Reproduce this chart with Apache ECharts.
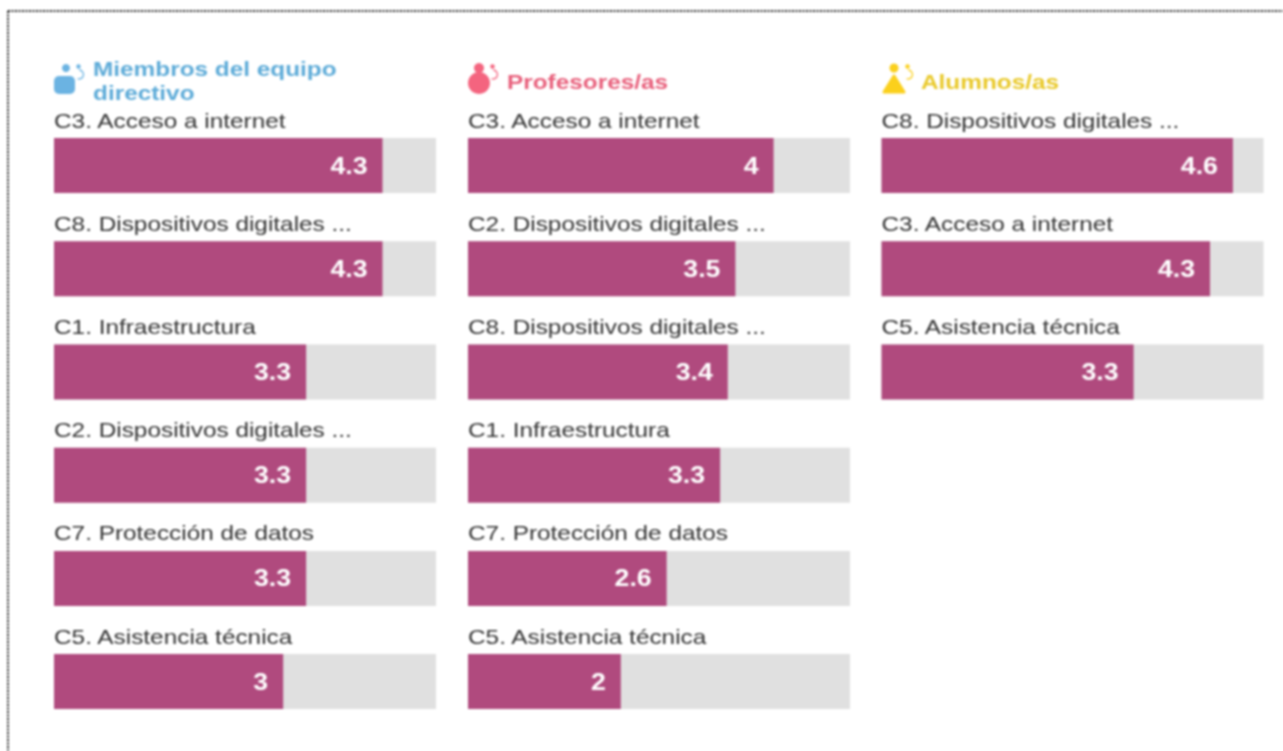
<!DOCTYPE html>
<html>
<head>
<meta charset="utf-8">
<style>
  html, body { margin: 0; padding: 0; background: #fff; overflow: hidden; }
  #chart { width: 1283px; height: 751px; filter: blur(0.8px); }
</style>
<script src="https://cdn.jsdelivr.net/npm/echarts@6/dist/echarts.min.js"></script>
</head>
<body>
<div id="chart"></div>
<script>
const directivoCategories = ['C3. Acceso a internet', 'C8. Dispositivos digitales ...', 'C1. Infraestructura', 'C2. Dispositivos digitales ...', 'C7. Protección de datos', 'C5. Asistencia técnica'];
const directivoValues = [4.3, 4.3, 3.3, 3.3, 3.3, 3];

const profesoresCategories = ['C3. Acceso a internet', 'C2. Dispositivos digitales ...', 'C8. Dispositivos digitales ...', 'C1. Infraestructura', 'C7. Protección de datos', 'C5. Asistencia técnica'];
const profesoresValues = [4, 3.5, 3.4, 3.3, 2.6, 2];

const alumnosCategories = ['C8. Dispositivos digitales ...', 'C3. Acceso a internet', 'C5. Asistencia técnica'];
const alumnosValues = [4.6, 4.3, 3.3];

const FONT = '"Liberation Sans", Arial, sans-serif';
const ROW_HEIGHT = 103.2;
const GRID_TOP = 114;
const TEXT_STRETCH = 1.16; // the reference text is stretched sideways

const columns = [
  { left: 54, categories: directivoCategories, values: directivoValues },
  { left: 468, categories: profesoresCategories, values: profesoresValues },
  { left: 881.5, categories: alumnosCategories, values: alumnosValues }
];

// small "person" pictograms next to each heading
function personIcon(x, y, color, headX, headR, body) {
  return {
    type: 'group', x, y, silent: true,
    children: [
      { type: 'circle', shape: { cx: headX, cy: 5, r: headR }, style: { fill: color } },
      { type: 'circle', shape: { cx: 24.5, cy: 3.5, r: 2.2 }, style: { fill: color } },
      { type: 'arc', shape: { cx: 25, cy: 11.5, r: 4.5, startAngle: -1.5, endAngle: 1.9 }, style: { fill: 'none', stroke: color, lineWidth: 1.3 } },
      body
    ]
  };
}

const titleStyle = color => ({ color, fontFamily: FONT, fontWeight: 'bold', fontSize: 21, lineHeight: 24 });

const chart = echarts.init(document.getElementById('chart'), null, { renderer: 'svg' });

chart.setOption({
  animation: false,
  backgroundColor: '#fff',
  title: [
    { text: 'Miembros del equipo\ndirectivo', left: 93, top: 56, padding: 0, textStyle: titleStyle('#5dabd8') },
    { text: 'Profesores/as', left: 507, top: 69, padding: 0, textStyle: titleStyle('#e8607c') },
    { text: 'Alumnos/as', left: 921, top: 69, padding: 0, textStyle: titleStyle('#e9c92a') }
  ],
  grid: columns.map(c => ({
    left: c.left,
    top: GRID_TOP,
    width: 382,
    height: ROW_HEIGHT * c.categories.length
  })),
  xAxis: columns.map((c, i) => ({
    type: 'value', gridIndex: i, min: 0, max: 5, show: false
  })),
  yAxis: columns.map((c, i) => ({
    type: 'category',
    gridIndex: i,
    inverse: true,
    data: c.categories,
    axisLine: { show: false },
    axisTick: { show: false },
    splitLine: { show: false },
    axisLabel: {
      inside: true,
      margin: 0,
      color: '#333',
      fontFamily: FONT,
      fontSize: 21,
      verticalAlign: 'bottom',
      padding: [0, 0, 35, 0]
    }
  })),
  series: columns.map((c, i) => ({
    type: 'bar',
    xAxisIndex: i,
    yAxisIndex: i,
    data: c.values,
    barWidth: 55,
    itemStyle: { color: '#b04a7e' },
    showBackground: true,
    backgroundStyle: { color: '#e0e0e0' },
    label: {
      show: true,
      position: 'insideRight',
      distance: 15,
      color: '#fff',
      fontFamily: FONT,
      fontWeight: 'bold',
      fontSize: 23
    }
  })),
  graphic: [
    // dotted page frame, cut off on the right and bottom
    { type: 'line', silent: true, shape: { x1: 8, y1: 11, x2: 1283, y2: 11 }, style: { stroke: '#222', lineWidth: 2, lineDash: [2, 1.5] } },
    { type: 'line', silent: true, shape: { x1: 8, y1: 11, x2: 8, y2: 751 }, style: { stroke: '#222', lineWidth: 2, lineDash: [2, 1.5] } },
    personIcon(54, 63, '#6bb3e2', 12, 4, { type: 'rect', shape: { x: 0, y: 13, width: 21, height: 18, r: 5 }, style: { fill: '#6bb3e2' } }),
    personIcon(468, 63, '#f4647f', 11, 5, { type: 'circle', shape: { cx: 11, cy: 20, r: 11 }, style: { fill: '#f4647f' } }),
    personIcon(883, 63, '#fbd01c', 11, 4.5, { type: 'polygon', shape: { points: [[11, 13], [21, 29], [1, 29]] }, style: { fill: '#fbd01c', stroke: '#fbd01c', lineWidth: 3, lineJoin: 'round' } })
  ]
});

// stretch the glyphs of every drawn text
document.querySelectorAll('#chart text').forEach(t => {
  t.setAttribute('textLength', t.getComputedTextLength() * TEXT_STRETCH);
  t.setAttribute('lengthAdjust', 'spacingAndGlyphs');
});
</script>
</body>
</html>
